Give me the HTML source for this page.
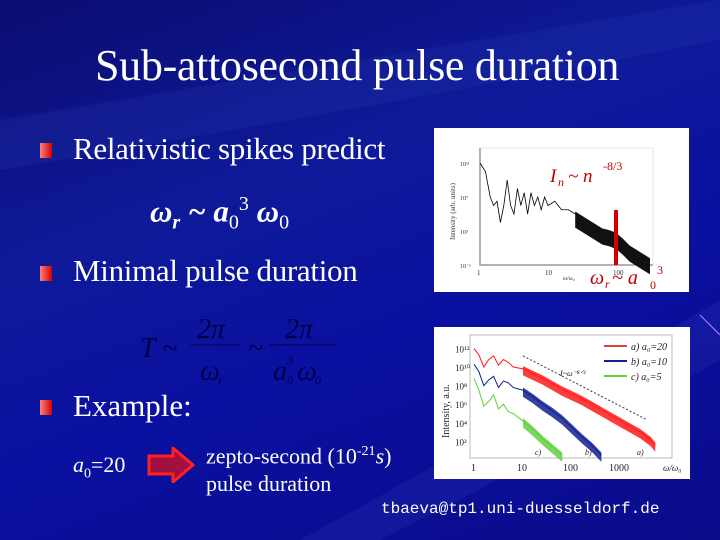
<!DOCTYPE html>
<html><head><meta charset="utf-8"><style>
body{margin:0;width:720px;height:540px;overflow:hidden;font-family:"Liberation Serif",serif;}
#slide{position:relative;width:720px;height:540px;background:linear-gradient(160deg,#0a0c70 0%,#0e1a9a 35%,#0a10a0 60%,#0a0c8a 100%);overflow:hidden;color:#fff}
.t{position:absolute;white-space:nowrap}
.bul{position:absolute;width:12px;height:15px;background:linear-gradient(90deg,#ff8080,#d00000)}
.box{position:absolute;background:#fff}
</style></head><body>
<div id="slide">
<svg width="720" height="540" style="position:absolute;left:0;top:0">
<path d="M0 120 Q360 60 720 0 L720 40 Q360 110 0 170Z" fill="#2436b0" opacity="0.25"/>
<path d="M300 540 Q520 420 720 300 L720 360 Q540 460 380 540Z" fill="#3040c0" opacity="0.2"/>
<line x1="700" y1="315" x2="720" y2="335" stroke="#c080ff" stroke-width="1"/>
</svg>
<div class="t" style="left:95px;top:40px;font-size:44px;letter-spacing:-0.3px">Sub-attosecond pulse duration</div>
<div class="bul" style="left:40px;top:143px"></div>
<div class="t" style="left:73px;top:131px;font-size:31px;letter-spacing:-0.3px">Relativistic spikes predict</div>
<div class="t" style="left:150px;top:193px;font-size:31px;font-style:italic;font-weight:bold">ω<sub style="font-size:20px">r</sub> ~ a<sub style="font-size:20px;font-style:normal;font-weight:normal">0</sub><sup style="font-size:20px;font-style:normal;font-weight:normal">3</sup> ω<sub style="font-size:20px;font-style:normal;font-weight:normal">0</sub></div>
<div class="bul" style="left:40px;top:266px"></div>
<div class="t" style="left:73px;top:253px;font-size:31px;letter-spacing:-0.3px">Minimal pulse duration</div>
<svg width="240" height="80" style="position:absolute;left:130px;top:305px" font-family="Liberation Serif" font-style="italic" fill="#000048" font-size="28">
<text x="10" y="52">T ~</text><text x="67" y="33">2π</text><line x1="60" y1="40" x2="110" y2="40" stroke="#000048"/><text x="70" y="75">ω</text><text x="88" y="79" font-size="12">r</text><text x="118" y="52">~</text><text x="155" y="33">2π</text><line x1="140" y1="40" x2="205" y2="40" stroke="#000048"/><text x="143" y="75">a</text><text x="157" y="79" font-size="12">0</text><text x="157" y="59" font-size="12">3</text><text x="167" y="75">ω</text><text x="185" y="79" font-size="12">0</text>
</svg>
<div class="bul" style="left:40px;top:400px"></div>
<div class="t" style="left:73px;top:388px;font-size:31px">Example:</div>
<div class="t" style="left:73px;top:452px;font-size:22px"><i>a</i><sub style="font-size:14px">0</sub>=20</div>
<svg width="50" height="36" style="position:absolute;left:147px;top:447px"><path d="M2 9 H26 V1 L46 18 L26 35 V27 H2Z" fill="#a01040" stroke="#ff2020" stroke-width="3"/></svg>
<div class="t" style="left:206px;top:438px;font-size:22px;line-height:28px">zepto-second (10<sup style="font-size:14px">-21</sup><i>s</i>)<br>pulse duration</div>
<div class="t" style="left:381px;top:500px;font-size:16px;font-family:'Liberation Mono',monospace">tbaeva@tp1.uni-duesseldorf.de</div>

<div class="box" style="left:434px;top:128px;width:255px;height:164px"></div>
<svg width="720" height="540" style="position:absolute;left:0;top:0" id="c1" font-family="Liberation Serif"></svg>
<div class="box" style="left:434px;top:327px;width:256px;height:152px"></div>
<svg width="720" height="540" style="position:absolute;left:0;top:0" id="c2" font-family="Liberation Serif"></svg>
</div>
<script>
// Chart 1 data (log10 of harmonic number, log10 intensity)
const c1X=[0,0.08,0.15,0.2,0.25,0.3,0.35,0.4,0.45,0.5,0.55,0.6,0.65,0.7,0.75,0.8,0.85,0.9,0.95,1.0,1.1,1.2,1.3,1.4,1.5,1.6,1.7,1.8,1.9,2.0,2.1,2.2,2.3,2.4,2.5];
const c1Y=[11,10,7,6,6.5,4,6,9,6,5,8,6,7.5,5,7.5,6,7,5.5,7,6,6.5,5.5,5.5,5,4.5,4,3.5,3,2.8,2.5,1.8,1,0.5,0,-0.5];
const c1Xticks=["1","10","100"];
const c1Yticks=["10\u207B\u00B9","10\u00B3","10\u2077","10\u00B9\u00B9"];
// Chart 2 data
const c2X=[0,0.1,0.2,0.3,0.4,0.5,0.6,0.7,0.8,1,1.2,1.4,1.6,1.8,2,2.2,2.4,2.6,2.8,3,3.2,3.4,3.6,3.7];
const c2A=[12,11.3,10,10.8,11.2,10.2,10.8,10.5,10,9.8,9.3,8.8,8.2,7.6,7.1,6.6,6,5.4,4.8,4.2,3.6,3,2.2,1.6];
const c2B=[10.3,9.5,8,8.6,9,7.8,8.5,8.3,7.8,7.5,6.8,6,5.3,4.5,3.5,2.5,1.6,0.5,null,null,null,null,null,null];
const c2C=[8.8,7.5,5.8,6.3,7,5.5,6,5.2,5,4.2,3.3,2.3,1.4,0.5,null,null,null,null,null,null,null,null,null,null];
const c2Xticks=["1","10","100","1000"];
const c2Yticks=["10\u00B2","10\u2074","10\u2076","10\u2078","10\u00B9\u2070","10\u00B9\u00B2"];
const NS="http://www.w3.org/2000/svg";
function mk(svg,tag,attrs,txt){const e=document.createElementNS(NS,tag);for(const k in attrs)e.setAttribute(k,attrs[k]);if(txt!==undefined)e.textContent=txt;svg.appendChild(e);return e;}
// chart 1
(function(){
const s=document.getElementById('c1');
const x=v=>480+v*68, y=v=>265-(v+1)*8.5;
let ax=mk(s,'path',{d:'M480 148 V265 H653',fill:'none',stroke:'#000','stroke-width':1});

mk(s,'rect',{x:480,y:148,width:173,height:117,fill:'none',stroke:'#ccc','stroke-width':0.5});
c1Xticks.forEach((t,i)=>{const e=mk(s,'text',{x:x(i)-3,y:275,'font-size':7,fill:'#333'},t);
});
c1Yticks.forEach((t,i)=>{const e=mk(s,'text',{x:460,y:y(-1+i*4)+3,'font-size':6,fill:'#333'},t);
});
let yl=mk(s,'text',{transform:'translate(455,240) rotate(-90)','font-size':7,fill:'#333'},'Intensity (arb. units)');

let xl=mk(s,'text',{x:563,y:280,'font-size':6,fill:'#333'},'ω/ω₀');

let p=c1X.map((v,i)=>x(v)+','+y(c1Y[i])).join(' ');
let ln=mk(s,'polyline',{points:p,fill:'none',stroke:'#000','stroke-width':0.8});

let band=[];for(let i=0;i<c1X.length;i++){if(c1X[i]>=1.4)band.push(x(c1X[i])+','+y(c1Y[i]+0.3));}
for(let i=c1X.length-1;i>=0;i--){if(c1X[i]>=1.4)band.push(x(c1X[i])+','+y(c1Y[i]-1.6));}
let bd=mk(s,'polygon',{points:band.join(' '),fill:'#111'});

let rl=mk(s,'rect',{x:x(2)-2,y:210,width:4,height:55,fill:'#d00000'});

let a1=mk(s,'text',{x:550,y:182,'font-size':19,'font-style':'italic',fill:'#c00000'},'I');

mk(s,'text',{x:558,y:186,'font-size':12,'font-style':'italic',fill:'#c00000'},'n');
mk(s,'text',{x:568,y:182,'font-size':19,'font-style':'italic',fill:'#c00000'},'~ n');
mk(s,'text',{x:603,y:170,'font-size':12,fill:'#c00000'},'-8/3');
let a2=mk(s,'text',{x:590,y:284,'font-size':20,'font-style':'italic',fill:'#c00000'},'ω');

mk(s,'text',{x:605,y:288,'font-size':12,'font-style':'italic',fill:'#c00000'},'r');
mk(s,'text',{x:612,y:284,'font-size':20,'font-style':'italic',fill:'#c00000'},'~ a');
mk(s,'text',{x:650,y:289,'font-size':12,fill:'#c00000'},'0');
mk(s,'text',{x:657,y:274,'font-size':12,fill:'#c00000'},'3');
})();
// chart 2
(function(){
const s=document.getElementById('c2');
const x=v=>474+v*49, y=v=>460-v*9.3;
mk(s,'rect',{x:470,y:335,width:202,height:123,fill:'none',stroke:'#aaa','stroke-width':0.8});
c2Xticks.forEach((t,i)=>{const e=mk(s,'text',{x:x(i)-3-i*3,y:471,'font-size':10,fill:'#222'},t);
});
c2Yticks.forEach((t,i)=>{const e=mk(s,'text',{x:455,y:y(2+i*2)+4,'font-size':9,fill:'#222'},t);
});
let yl=mk(s,'text',{transform:'translate(449,438) rotate(-90)','font-size':10,fill:'#222'},'Intensity, a.u.');

let xl=mk(s,'text',{x:663,y:471,'font-size':9,'font-style':'italic',fill:'#222'},'ω/ω₀');

const series=[[c2A,'#ff1a1a','chart2-series-a'],[c2B,'#102090','chart2-series-b'],[c2C,'#60d040','chart2-series-c']];
series.forEach(([d,c,n])=>{
let pts=[];d.forEach((v,i)=>{if(v!==null)pts.push(x(c2X[i])+','+y(v));});
const e=mk(s,'polyline',{points:pts.join(' '),fill:'none',stroke:c,'stroke-width':1});

let band=[],bot=[];d.forEach((v,i)=>{if(v!==null&&c2X[i]>=1){band.push(x(c2X[i])+','+y(v+0.3));bot.unshift(x(c2X[i])+','+y(v-0.7));}});
const b=mk(s,'polygon',{points:band.concat(bot).join(' '),fill:c,opacity:0.85});

});
let dl=mk(s,'line',{x1:x(1),y1:y(11.2),x2:x(3.5),y2:y(4.4),stroke:'#333','stroke-width':1,'stroke-dasharray':'2,2'});

let gl=mk(s,'text',{x:560,y:376,'font-size':8,'font-style':'italic',fill:'#222'},'I~ω⁻⁸ᐟ³');

const leg=[['a) a₀=20','#e04040'],['b) a₀=10','#102090'],['c) a₀=5','#60d040']];
leg.forEach(([t,c],i)=>{
const g=mk(s,'g',{});

mk(g,'line',{x1:604,y1:346+i*15,x2:627,y2:346+i*15,stroke:c,'stroke-width':2});
mk(g,'text',{x:631,y:350+i*15,'font-size':10,'font-style':'italic',fill:'#222'},t);
});
[['c)',535],['b)',585],['a)',637]].forEach(([t,px])=>{const e=mk(s,'text',{x:px,y:455,'font-size':8,'font-style':'italic',fill:'#222'},t);
});
})();
</script>
</body></html>
